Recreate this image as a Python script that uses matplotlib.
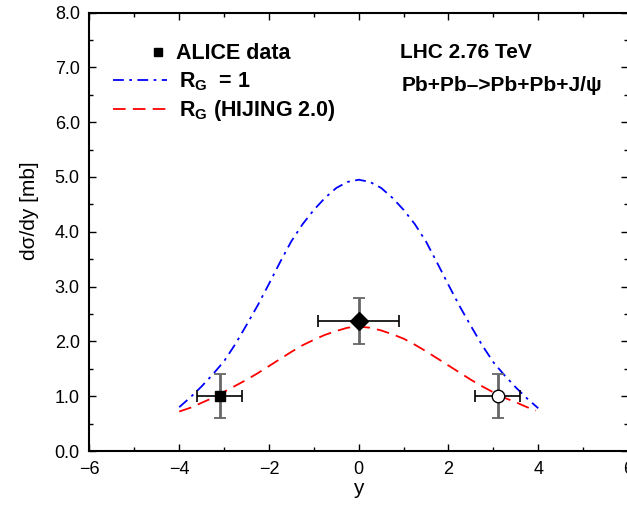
import matplotlib
matplotlib.use('Agg')
import matplotlib.pyplot as plt
from matplotlib.lines import Line2D

plt.rcParams['font.family'] = ['Liberation Sans', 'DejaVu Sans']
plt.rcParams['mathtext.fontset'] = 'custom'
plt.rcParams['mathtext.rm'] = 'Liberation Sans'
plt.rcParams['mathtext.bf'] = 'Liberation Sans:bold'

# curves
y_rg1 = [-4.0, -3.75, -3.5, -3.25, -3.0, -2.75, -2.5, -2.25, -2.0, -1.75,
         -1.5, -1.25, -1.0, -0.75, -0.5, -0.25, 0.0,
         0.25, 0.5, 0.75, 1.0, 1.25, 1.5, 1.75, 2.0, 2.25, 2.5, 2.75,
         3.0, 3.25, 3.5, 3.75, 4.0]
sig_rg1 = [0.80, 0.98, 1.18, 1.40, 1.64, 1.95, 2.30, 2.66, 3.05, 3.45,
           3.83, 4.14, 4.40, 4.62, 4.80, 4.91, 4.95,
           4.91, 4.80, 4.62, 4.40, 4.14, 3.82, 3.43, 3.03, 2.64, 2.28, 1.93,
           1.62, 1.38, 1.16, 0.96, 0.78]

y_hij = [-4.0, -3.75, -3.5, -3.25, -3.0, -2.75, -2.5, -2.25, -2.0, -1.75,
         -1.5, -1.25, -1.0, -0.75, -0.5, -0.25, 0.0,
         0.25, 0.5, 0.75, 1.0, 1.25, 1.5, 1.75, 2.0, 2.25, 2.5, 2.75,
         3.0, 3.25, 3.5, 3.75, 3.95]
sig_hij = [0.72, 0.79, 0.88, 0.97, 1.08, 1.19, 1.30, 1.42, 1.55, 1.68,
           1.81, 1.93, 2.03, 2.12, 2.19, 2.25, 2.27,
           2.25, 2.20, 2.13, 2.05, 1.94, 1.82, 1.69, 1.56, 1.43, 1.30, 1.18,
           1.07, 0.97, 0.89, 0.80, 0.74]

# ALICE points
alice_x = [-3.1, 0.0, 3.1]
alice_y = [1.0, 2.38, 1.0]
alice_xerr = [0.5, 0.9, 0.5]
alice_yerr = [0.4, 0.42, 0.4]

fig = plt.figure(figsize=(6.27, 5.11), dpi=100)
ax = fig.add_axes([0.1427, 0.1174, 0.8589, 0.858])

ax.plot(y_rg1, sig_rg1, color='#0000ff', lw=1.3, dashes=(6, 3, 1.5, 3))
ax.plot(y_hij, sig_hij, color='#ff0000', lw=1.3, dashes=(7, 4))

# error bars: grey vertical, black horizontal
for i in range(len(alice_x)):
    ax.errorbar(alice_x[i], alice_y[i], yerr=alice_yerr[i], fmt='none',
                ecolor='#666666', elinewidth=2.0, capsize=4, capthick=1.3)
    ax.errorbar(alice_x[i], alice_y[i], xerr=alice_xerr[i], fmt='none',
                ecolor='black', elinewidth=1.2, capsize=4, capthick=1.2)

ax.plot(alice_x[0], alice_y[0], 's', color='black', ms=7.5)
ax.plot(alice_x[1], alice_y[1], 'D', color='black', ms=9)
ax.plot(alice_x[2], alice_y[2], 'o', mfc='white', mec='black', mew=1.0, ms=9)

ax.set_xlim(-6, 6)
ax.set_ylim(0, 8)
ax.set_xticks([-6, -4, -2, 0, 2, 4, 6])
ax.set_xticks([-5, -3, -1, 1, 3, 5], minor=True)
ax.set_yticks([0, 1, 2, 3, 4, 5, 6, 7, 8])
ax.set_yticks([0.5, 1.5, 2.5, 3.5, 4.5, 5.5, 6.5, 7.5], minor=True)
ax.set_yticklabels(['%.1f' % v for v in range(9)])
ax.set_xticklabels(['\u22126', '\u22124', '\u22122', '0', '2', '4', '6'])
ax.tick_params(which='both', direction='in', top=True, right=True,
               labelsize=13, width=1.0)
ax.tick_params(which='major', length=5, pad=7)
ax.tick_params(which='minor', length=3)
for s in ax.spines.values():
    s.set_linewidth(1.5)

ax.set_xlabel('y', fontsize=15, labelpad=1)
ax.set_ylabel('d\u03c3/dy [mb]', fontsize=15)
ax.yaxis.set_label_coords(-0.094, 0.547)

# legends
leg1 = ax.legend([Line2D([], [], ls='none', marker='s', color='black', ms=6)],
                 ['ALICE data'], loc='upper left', bbox_to_anchor=(0.10, 0.95),
                 frameon=False, handlelength=0.6, handletextpad=0.5,
                 prop={'weight': 'bold', 'size': 15.5}, borderaxespad=0)
ax.add_artist(leg1)
h_rg1 = Line2D([], [], color='#0000ff', lw=1.3, dashes=(6, 3, 1.5, 3))
h_hij = Line2D([], [], color='#ff0000', lw=1.3, dashes=(7, 4))
ax.legend([h_rg1, h_hij], [r'R$_{\mathbf{G}}$  = 1', r'R$_{\mathbf{G}}$ (HIJING 2.0)'],
          loc='upper left', bbox_to_anchor=(0.028, 0.888), frameon=False,
          handlelength=2.5, handletextpad=0.55, labelspacing=0.25,
          prop={'weight': 'bold', 'size': 15.5}, borderaxespad=0)

ax.text(0.92, 7.27, 'LHC 2.76 TeV', fontsize=15, fontweight='bold', va='center')
ax.text(0.96, 6.67, 'Pb+Pb\u2013>Pb+Pb+J/\u03c8', fontsize=15, fontweight='bold', va='center')

fig.savefig('out.png', dpi=100)
